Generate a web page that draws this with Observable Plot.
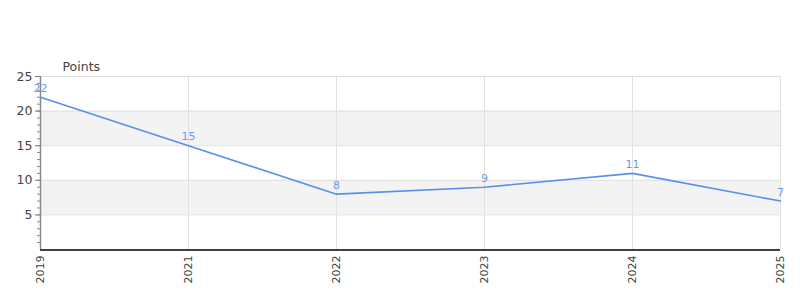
<!DOCTYPE html>
<html>
<head>
<meta charset="utf-8">
<script src="https://cdn.jsdelivr.net/npm/d3@7"></script>
<script src="https://cdn.jsdelivr.net/npm/@observablehq/plot@0.6"></script>
<style>
body { margin: 0; background: #fff; font-family: "DejaVu Sans", sans-serif; }
</style>
</head>
<body>
<div id="chart"></div>
<script>
const years = ["2019", "2021", "2022", "2023", "2024", "2025"];
const points = [22, 15, 8, 9, 11, 7];
const yTicks = [5, 10, 15, 20, 25];
const bandStarts = [5, 15];
const bandSize = 5;
const yLabel = "Points";

const data = years.map((y, i) => ({year: y, value: points[i]}));
const bands = bandStarts.map(s => ({y1: s, y2: s + bandSize}));
const minorTicks = d3.range(1, 26);

const chart = Plot.plot({
  width: 800,
  height: 300,
  marginLeft: 40,
  marginRight: 20,
  marginTop: 76,
  marginBottom: 51,
  style: {fontFamily: "DejaVu Sans, sans-serif", fontSize: "11px", color: "#444", background: "#fff"},
  x: {type: "point", domain: years, padding: 0, label: null},
  y: {domain: [0, 25], label: null},
  marks: [
    Plot.rect(bands, {y1: "y1", y2: "y2", fill: "#f3f3f3"}),
    Plot.ruleY(yTicks, {stroke: "#e0e0e0", strokeWidth: 1}),
    Plot.ruleX(years, {y1: 0, y2: 25, stroke: "#e0e0e0", strokeWidth: 1}),
    Plot.axisY(yTicks, {tickSize: 5, tickPadding: 3, fontSize: 12.5, stroke: "#777", fill: "#444"}),
    Plot.axisY(minorTicks, {tickSize: 3, text: null, stroke: "#888"}),
    Plot.ruleX([years[0]], {y1: 0, y2: 25, stroke: "#888", strokeWidth: 1.5}),
    Plot.axisX({tickRotate: -90, tickSize: 0, tickPadding: 6, fontSize: 11, fill: "#444"}),
    Plot.ruleY([0], {stroke: "#444", strokeWidth: 1, dy: 1}),
    Plot.ruleY([0], {stroke: "#d00000", strokeWidth: 1}),
    Plot.line(data, {x: "year", y: "value", stroke: "#5b8eea", strokeWidth: 1.6}),
    Plot.text(data, {x: "year", y: "value", text: d => String(d.value), dy: -9, fill: "#6f9aec", fontSize: 11}),
    Plot.text([yLabel], {frameAnchor: "top-left", text: d => d, dx: 22, dy: -14, textAnchor: "start", fontSize: 12.5, fill: "#444"})
  ]
});
document.getElementById("chart").appendChild(chart);
</script>
</body>
</html>
